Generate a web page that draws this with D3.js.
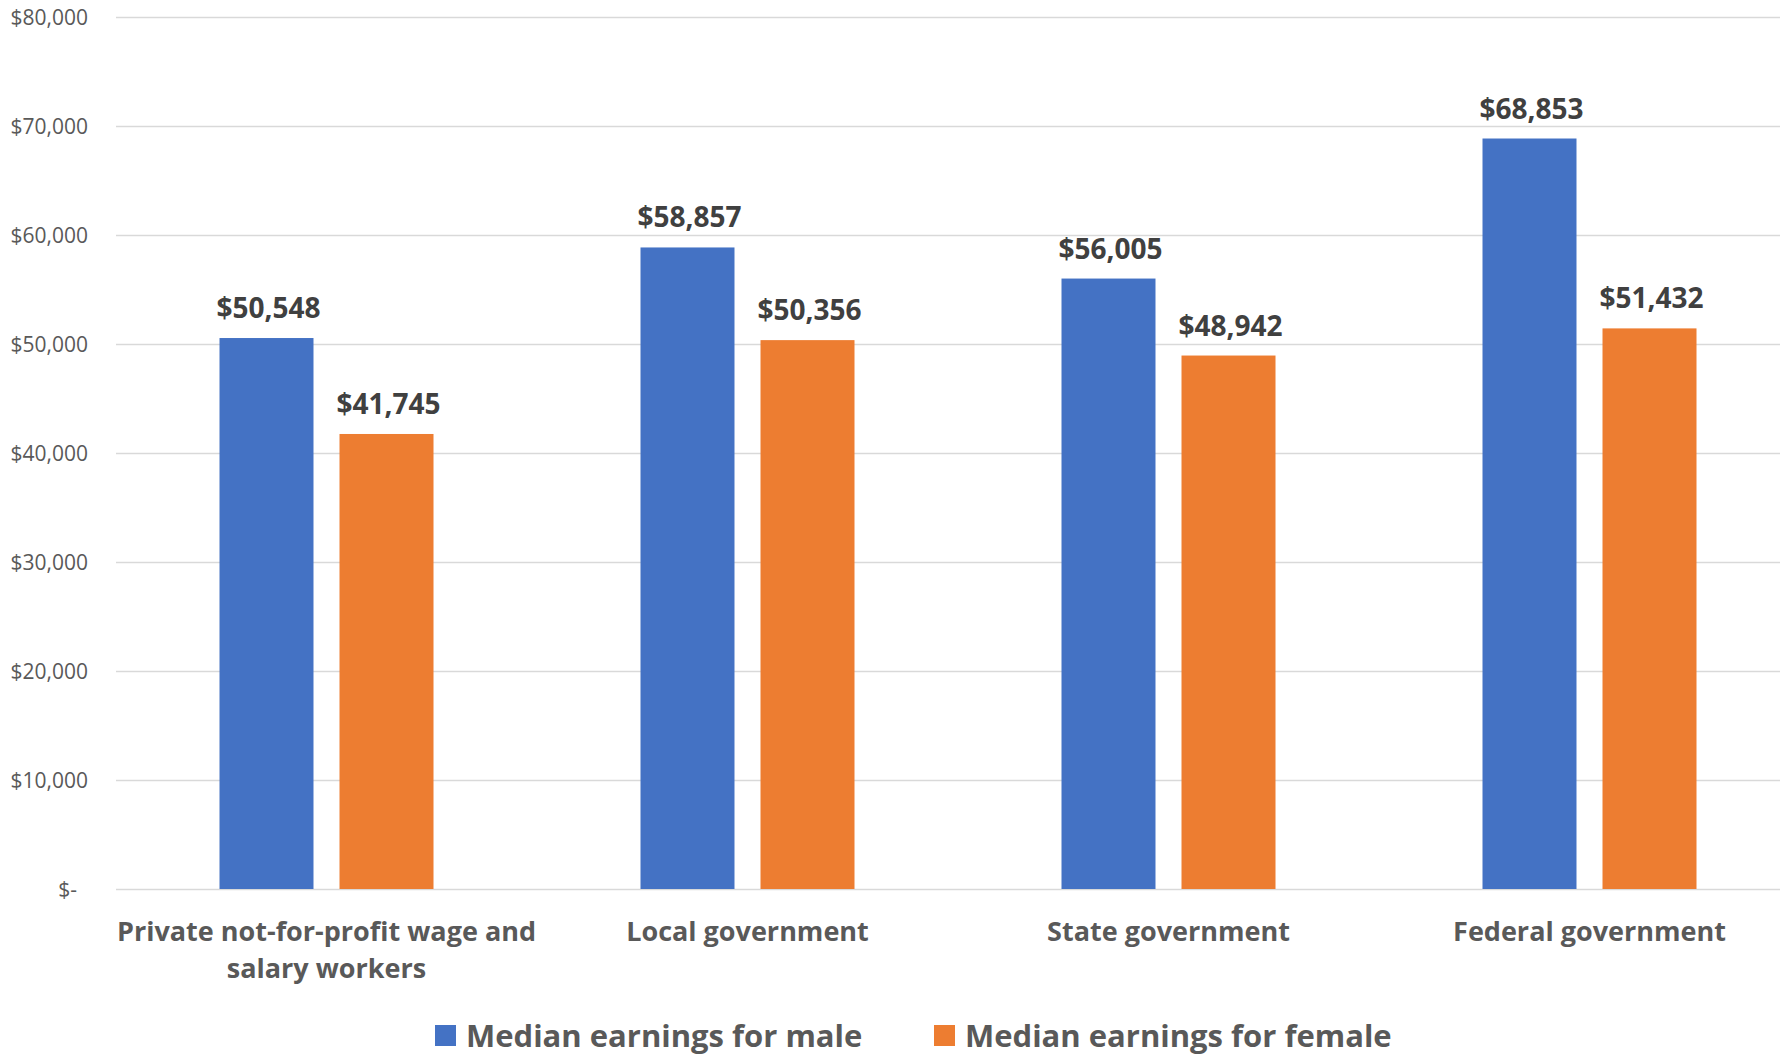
<!DOCTYPE html>
<html>
<head>
<meta charset="utf-8">
<script src="https://cdn.jsdelivr.net/npm/d3@7"></script>
<style>
  html, body { margin: 0; padding: 0; background: #fff; }
  svg { display: block; }
  text { font-family: "Open Sans", "DejaVu Sans", sans-serif; }
</style>
</head>
<body>
<svg id="chart" width="1780" height="1054"></svg>
<script>
const categories = [
  ["Private not-for-profit wage and", "salary workers"],
  ["Local government"],
  ["State government"],
  ["Federal government"]
];
const seriesNames = ["Median earnings for male", "Median earnings for female"];
const maleValues = [50548, 58857, 56005, 68853];
const femaleValues = [41745, 50356, 48942, 51432];
const yTicks = [0, 10000, 20000, 30000, 40000, 50000, 60000, 70000, 80000];
const colors = ["#4472C4", "#ED7D31"];

const W = 1780, H = 1054;
const svg = d3.select("#chart");

const catKeys = categories.map(c => c.join(" "));
const values = [maleValues, femaleValues];

const y = d3.scaleLinear().domain([0, 80000]).range([889, 17]);
const x0 = d3.scaleBand().domain(catKeys).range([116, 1800]).paddingInner(0).paddingOuter(0);
const x1 = d3.scaleBand().domain(seriesNames).range([103.5, 317.5]).paddingInner(0.2167).paddingOuter(0);

// gridlines
const fmt = v => v === 0 ? "$-\u00A0\u00A0" : "$" + d3.format(",")(v);
const yAxis = d3.axisLeft(y).tickValues(yTicks).tickSize(-(W - 116)).tickFormat(fmt).tickPadding(28);
const gy = svg.append("g").attr("transform", "translate(116,0)").call(yAxis);
gy.select(".domain").remove();
gy.selectAll(".tick line").attr("stroke", "#D9D9D9").attr("stroke-width", 1.5);
gy.selectAll(".tick text")
  .attr("fill", "#595959")
  .style("font-size", "21px")
  .style("white-space", "pre")
  .attr("dy", "0.36em");

// bars
const groups = svg.append("g").selectAll("g")
  .data(catKeys)
  .join("g")
  .attr("transform", d => `translate(${x0(d)},0)`);

groups.each(function(cat, ci) {
  const g = d3.select(this);
  seriesNames.forEach((s, si) => {
    const v = values[si][ci];
    g.append("rect")
      .attr("x", x1(s))
      .attr("y", y(v))
      .attr("width", x1.bandwidth())
      .attr("height", y(0) - y(v))
      .attr("fill", colors[si]);
    g.append("text")
      .attr("x", x1(s) + x1.bandwidth() / 2 + 2)
      .attr("y", y(v) - 20)
      .attr("text-anchor", "middle")
      .attr("fill", "#404040")
      .style("font-size", "28px")
      .style("font-weight", "700")
      .text("$" + d3.format(",")(v));
  });
});

// category labels
categories.forEach((lines, ci) => {
  const cx = x0(catKeys[ci]) + x0.bandwidth() / 2;
  const t = svg.append("text")
    .attr("text-anchor", "middle")
    .attr("fill", "#595959")
    .style("font-size", "27px")
    .style("font-weight", "700");
  lines.forEach((ln, li) => {
    t.append("tspan").attr("x", cx).attr("y", 941 + li * 37).text(ln);
  });
});

// legend
const legendX = [435, 934];
seriesNames.forEach((s, si) => {
  svg.append("rect")
    .attr("x", legendX[si]).attr("y", 1025)
    .attr("width", 21).attr("height", 21)
    .attr("fill", colors[si]);
  svg.append("text")
    .attr("x", legendX[si] + 31).attr("y", 1047)
    .attr("fill", "#595959")
    .style("font-size", "31px")
    .style("font-weight", "700")
    .text(s);
});
</script>
</body>
</html>
